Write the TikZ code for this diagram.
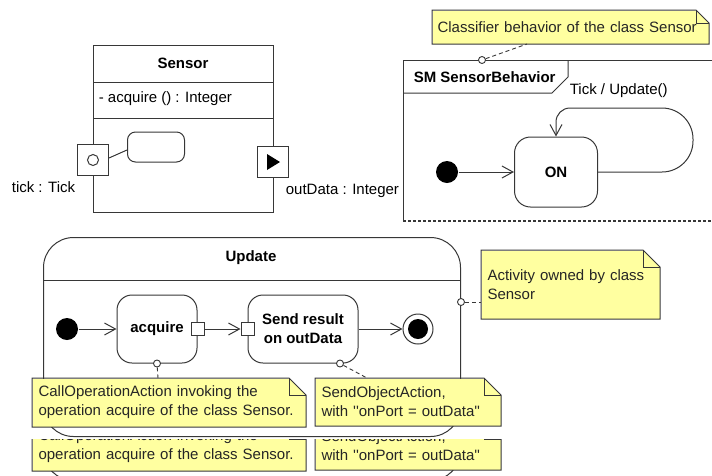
\documentclass[tikz,border=0pt]{standalone}
\usepackage{fontspec}
\setmainfont{Liberation Sans}
\usetikzlibrary{arrows.meta,positioning,calc}

\definecolor{noteyellow}{RGB}{255,255,160}
\definecolor{umlline}{RGB}{55,55,55}

% folded corner of a note, drawn over the note node
\newcommand{\foldnote}[2][17pt]{%
  \fill[white] ([xshift=-#1]#2.north east) -- (#2.north east) -- ([yshift=-#1]#2.north east) -- cycle;
  \draw[umlline] (#2.south west) -- (#2.north west) -- ([xshift=-#1]#2.north east)
    -- ([yshift=-#1]#2.north east) -- (#2.south east) -- cycle;
  \draw[umlline] ([xshift=-#1]#2.north east) |- ([yshift=-#1]#2.north east);}

% the Update activity with its two notes
\newcommand{\updateblock}{%
  \node[actframe] (update) at (43,237) {};
  \node[boldlabel] (updatename) at (251,258) {Update};
  \draw ([yshift=-43pt]update.north west) -- ([yshift=-43pt]update.north east);
  \node[initnode] (ainit) at (67,329) {};
  \node[action, minimum width=80pt] (acquire) at (157,329) {acquire};
  \node[pin] (acqout) at (acquire.east) {};
  \node[action, minimum width=110pt] (sendres) at (303,329) {Send result\\on outData};
  \node[pin] (sendin) at (sendres.west) {};
  \node[finalnode] (afinal) at (418,329) {};
  \path[->]
    (ainit) edge (acquire)
    (acqout) edge (sendin)
    (sendres) edge (afinal);
  \node[notedot] (acqdot) at (acquire.south) {};
  \node[notedot] (senddot) at ([xshift=37pt]sendres.south) {};
  \node[note, text width=261pt, minimum height=48pt] (notecall) at (32,378)
    {CallOperationAction invoking the\\operation acquire of the class Sensor.};
  \foldnote{notecall}
  \node[note, text width=173pt, minimum height=47pt] (notesend) at (315,378)
    {SendObjectAction,\\with \textquotesingle\textquotesingle onPort = outData\textquotesingle\textquotesingle};
  \foldnote{notesend}
  \draw[anchorline] (acqdot) -- ([xshift=126pt]notecall.north west);
  \draw[anchorline] (senddot) -- ([xshift=52pt]notesend.north west);
}

\begin{document}
\begin{tikzpicture}[
    x=1pt, y=-1pt,
    line width=1pt,
    draw=umlline,
    font=\fontsize{15}{19}\selectfont,
    >={Straight Barb[length=11pt,width=12pt]},
    boldlabel/.style={font=\fontsize{15}{19}\selectfont\bfseries},
    port/.style={draw, fill=white, minimum size=31pt, inner sep=0pt},
    pin/.style={draw, fill=white, minimum size=13pt, inner sep=0pt},
    initnode/.style={circle, fill=black, minimum size=22pt, inner sep=0pt},
    finalnode/.style={circle, draw, fill=white, minimum size=30pt, inner sep=0pt,
      path picture={\fill[black] (path picture bounding box.center) circle (10pt);}},
    smstate/.style={draw, rounded corners=16pt, minimum width=83pt, minimum height=70pt,
      font=\fontsize{15}{19}\selectfont\bfseries},
    action/.style={draw, fill=white, rounded corners=15pt, minimum height=68pt, align=center,
      font=\fontsize{15}{19}\selectfont\bfseries},
    actframe/.style={draw, rounded corners=30pt, anchor=north west, minimum width=417pt,
      minimum height=199pt},
    note/.style={fill=noteyellow, text=black!85, anchor=north west, align=left,
      inner xsep=6pt, inner ysep=0pt},
    notedot/.style={circle, draw, fill=white, minimum size=7pt, inner sep=0pt, line width=0.9pt},
    anchorline/.style={dash pattern=on 4pt off 3pt, line width=0.9pt}
]
    \useasboundingbox (0,0) rectangle (712,475);

    % Class Sensor with its two ports
    \node[draw, anchor=north west, minimum width=180pt, minimum height=167pt] (sensor) at (93,45) {};
    \node[boldlabel] (sensorname) at (183,63) {Sensor};
    \draw ([yshift=-37pt]sensor.north west) -- ([yshift=-37pt]sensor.north east);
    \draw ([yshift=-73pt]sensor.north west) -- ([yshift=-73pt]sensor.north east);
    \node[anchor=west] (acqop) at (95,99) {- acquire () : Integer};
    \node[draw, rounded corners=8pt, minimum width=57pt, minimum height=30pt] (classbeh) at (156,147) {};
    \node[port] (tickport) at (93,160) {};
    \draw (tickport.center) circle (5.5pt);
    \node[port] (outport) at (273,162) {};
    \fill[black] ([shift={(-6,-8)}]outport.center) -- ([shift={(-6,8)}]outport.center)
      -- ([shift={(7,0)}]outport.center) -- cycle;
    \draw ([yshift=2pt]tickport.east) -- ([yshift=-3pt]classbeh.west);
    \node[anchor=west] (ticklbl) at (8,187) {tick : Tick};
    \node[anchor=west] (outlbl) at (282,191) {outData : Integer};

    % State machine SensorBehavior
    \draw (712,60) -- (403,60) -- (403,221);
    \draw[dash pattern=on 3pt off 2pt, line width=1.6pt] (403,221) -- (712,221);
    \draw (403,93) -- (552,93) -- (568,77) -- (568,60);
    \node[boldlabel, anchor=west] (smname) at (410,77) {SM SensorBehavior};
    \node[initnode] (sminit) at (447,172) {};
    \node[smstate] (onstate) at (556,172) {ON};
    \draw[->] (sminit) -- (onstate);
    \draw[->] (onstate.east) [rounded corners=31pt] -- (693,172) -- (693,108) -- (630,108)
      [rounded corners=14pt] -- (556,108) -- (onstate.north);
    \node[anchor=west] (looplbl) at (566,91) {Tick / Update()};
    \node[notedot] (smdot) at (482,60) {};
    \node[note, text width=266pt, minimum height=33pt, inner xsep=5pt] (noteclass) at (432,10)
      {Classifier behavior of the class Sensor};
    \foldnote[13pt]{noteclass}
    \draw[anchorline] (smdot) -- ([xshift=95pt]noteclass.south west);

    % Activity Update
    \updateblock
    \node[notedot] (actdot) at (update.east |- 0,302) {};
    \node[note, text width=166pt, minimum height=68pt] (noteact) at (481,250)
      {Activity owned by class\\Sensor};
    \foldnote{noteact}
    \draw[anchorline] (actdot) -- (actdot -| noteact.west);

    % repeated strip under the activity
    \begin{scope}
        \clip (0,439) rectangle (712,475);
        \fill[white] (0,439) rectangle (712,475);
        \begin{scope}[yshift=-44pt, name prefix=dup-]
            \updateblock
        \end{scope}
    \end{scope}

\end{tikzpicture}
\end{document}
